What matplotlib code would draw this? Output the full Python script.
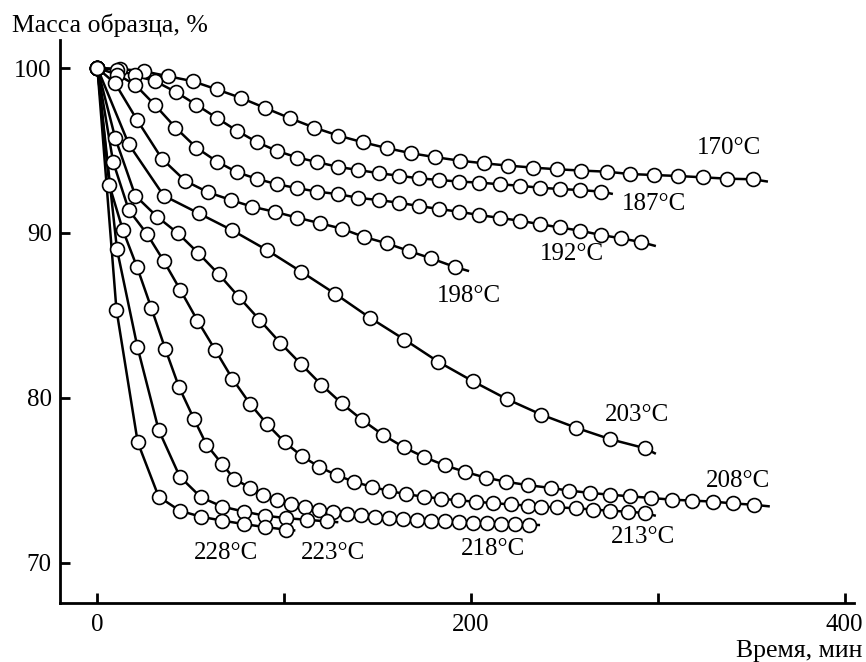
import matplotlib.pyplot as plt
import numpy as np

plt.rcParams['font.family'] = ['Liberation Serif', 'DejaVu Serif']

# time, min / sample mass, %
t170 = [0, 12, 25, 38, 51, 64, 77, 90, 103, 116, 129, 142, 155, 168, 181, 194, 207, 220,
        233, 246, 259, 273, 285, 298, 311, 324, 337, 351]
m170 = [100, 99.95, 99.8, 99.5, 99.2, 98.7, 98.18, 97.57, 96.96, 96.39, 95.9, 95.5, 95.14,
        94.83, 94.59, 94.38, 94.22, 94.08, 93.96, 93.86, 93.78, 93.71, 93.57, 93.51, 93.45,
        93.37, 93.29, 93.25]

t187 = [0, 10.7, 20.3, 31.1, 42.1, 53, 64.1, 74.8, 85.5, 96.2, 107.1, 117.8, 128.9, 139.4,
        150.6, 161.3, 172.1, 182.8, 193.8, 204.5, 215.3, 226, 236.8, 247.5, 258.6, 269.7]
m187 = [100, 99.9, 99.55, 99.19, 98.54, 97.77, 96.96, 96.19, 95.5, 94.97, 94.57, 94.29, 94.0,
        93.82, 93.62, 93.47, 93.31, 93.21, 93.11, 93.05, 92.95, 92.86, 92.74, 92.66, 92.6, 92.5]

t192 = [0, 10.7, 20.3, 30.7, 41.8, 53, 64.1, 74.8, 85.5, 96.2, 107.1, 117.8, 128.9, 139.4,
        150.6, 161.3, 172.1, 182.8, 193.8, 204.5, 215.3, 226, 236.8, 247.5, 258.6, 269.7,
        280.4, 291.1]
m192 = [100, 99.6, 98.98, 97.77, 96.39, 95.17, 94.32, 93.68, 93.27, 92.95, 92.71, 92.5, 92.35,
        92.13, 91.99, 91.83, 91.63, 91.45, 91.28, 91.08, 90.91, 90.74, 90.53, 90.33, 90.13,
        89.87, 89.67, 89.44]

t198 = [0, 9.5, 21.2, 34.6, 47.1, 59.3, 71.6, 82.8, 94.9, 107.1, 119.4, 131, 142.6, 155.1,
        167.1, 178.8, 191.2]
m198 = [100, 99.07, 96.86, 94.49, 93.15, 92.46, 91.99, 91.59, 91.28, 90.92, 90.58, 90.25,
        89.76, 89.36, 88.89, 88.45, 87.94]

t203 = [0, 16.8, 35.5, 54.2, 72.3, 90.9, 109.2, 127.4, 145.8, 164.4, 182.4, 201.2, 219.4,
        237.6, 256.3, 274.7, 293.1]
m203 = [100, 95.38, 92.26, 91.19, 90.15, 88.95, 87.64, 86.3, 84.86, 83.53, 82.19, 80.99,
        79.91, 78.98, 78.18, 77.48, 76.94]

t208 = [0, 9.6, 20.3, 32, 43.2, 53.9, 65, 75.7, 86.7, 98, 109.2, 119.9, 130.7, 141.8, 152.9,
        164, 175, 186, 197, 208, 219, 230.5, 242.6, 252.4, 263.6, 274.3, 285.4, 296.5, 307.5,
        318.6, 329.7, 340.4, 351.4]
m208 = [100, 95.74, 92.26, 90.98, 89.97, 88.79, 87.49, 86.12, 84.74, 83.32, 82.02, 80.79,
        79.67, 78.65, 77.75, 77.0, 76.4, 75.9, 75.5, 75.15, 74.9, 74.7, 74.53, 74.37, 74.23,
        74.12, 74.02, 73.92, 73.82, 73.76, 73.7, 73.59, 73.51]

t213 = [0, 8.4, 16.8, 26.6, 35.5, 44.5, 53.6, 63.2, 72.3, 81.6, 91, 100.3, 109.6, 118.9,
        128.2, 137.5, 146.8, 156.1, 165.4, 174.7, 184, 193.3, 202.6, 211.9, 221.2, 230.5,
        237.5, 246, 256, 265.2, 274.3, 284, 293]
m213 = [100, 94.32, 91.39, 89.93, 88.3, 86.52, 84.68, 82.88, 81.15, 79.65, 78.38, 77.3, 76.45,
        75.8, 75.3, 74.9, 74.6, 74.35, 74.15, 74.0, 73.88, 73.78, 73.69, 73.61, 73.53, 73.46,
        73.4, 73.35, 73.3, 73.22, 73.15, 73.09, 73.01]

t218 = [0, 6.4, 13.7, 21.2, 28.8, 36.4, 43.7, 51.6, 58.4, 66.7, 73.3, 81.9, 88.7, 96.2,
        103.7, 111.2, 118.7, 126.2, 133.7, 141.2, 148.7, 156.2, 163.7, 171.2, 178.7, 186.2,
        193.7, 201.2, 208.7, 216.2, 223.7, 231.2]
m218 = [100, 92.9, 90.15, 87.94, 85.47, 82.95, 80.65, 78.74, 77.16, 75.99, 75.08, 74.53,
        74.12, 73.8, 73.55, 73.35, 73.2, 73.07, 72.96, 72.87, 72.79, 72.72, 72.65, 72.6, 72.55,
        72.5, 72.46, 72.42, 72.39, 72.36, 72.33, 72.3]

t223 = [0, 10.5, 21.4, 32.8, 44.1, 55.5, 66.8, 78.3, 89.5, 101, 112, 123]
m223 = [100, 89.0, 83.1, 78.05, 75.22, 73.96, 73.4, 73.1, 72.85, 72.7, 72.6, 72.5]

t228 = [0, 10.2, 21.6, 32.8, 44.1, 55.5, 66.8, 78.3, 89.5, 101]
m228 = [100, 85.35, 77.3, 74.0, 73.15, 72.78, 72.55, 72.34, 72.16, 72.0]

# where each drawn curve stops beyond its last circle
t_end = [359, 276, 299, 199, 299, 360, 299, 237, 129, 106]
m_end = [93.11, 92.36, 89.2, 87.68, 76.6, 73.41, 72.84, 72.28, 72.45, 71.95]

labels = ['170°C', '187°C', '192°C', '198°C', '203°C', '208°C', '213°C', '218°C', '223°C', '228°C']
label_t = [338, 298, 254, 199, 289, 343, 292, 212, 126, 69]
label_m = [95.12, 91.78, 88.74, 86.17, 78.98, 74.97, 71.58, 70.81, 70.6, 70.57]

series = [(t170, m170), (t187, m187), (t192, m192), (t198, m198), (t203, m203),
          (t208, m208), (t213, m213), (t218, m218), (t223, m223), (t228, m228)]

fig = plt.figure(figsize=(8.66, 6.62), dpi=100)
ax = fig.add_axes([0.0693, 0.0891, 0.9167, 0.8505])

for i, (t, m) in enumerate(series):
    ax.plot(list(t) + [t_end[i]], list(m) + [m_end[i]], color='black', linewidth=1.8,
            solid_capstyle='butt', zorder=2)
    ax.plot(t, m, linestyle='none', marker='o', markersize=10, markerfacecolor='white',
            markeredgecolor='black', markeredgewidth=1.2, zorder=3)
    ax.text(label_t[i], label_m[i], labels[i], ha='center', va='center', fontsize=18)

ax.set_xlim(-20, 405)
ax.set_ylim(67.55, 101.7)
ax.set_xticks([0, 100, 200, 300, 400])
ax.set_xticklabels(['0', '', '200', '', '400'])
ax.set_yticks([70, 80, 90, 100])
ax.tick_params(direction='in', length=7, width=2, labelsize=18, pad=6)
ax.tick_params(axis='x', pad=8)

for side in ['top', 'right']:
    ax.spines[side].set_visible(False)
for side in ['left', 'bottom']:
    ax.spines[side].set_linewidth(2)

fig.text(12 / 866, 1 - 25 / 662, 'Масса образца, %', fontsize=18.5, ha='left', va='center')
fig.text(862 / 866, 1 - 651 / 662, 'Время, мин', fontsize=18.5, ha='right', va='center')

plt.savefig('out.png', dpi=100)
